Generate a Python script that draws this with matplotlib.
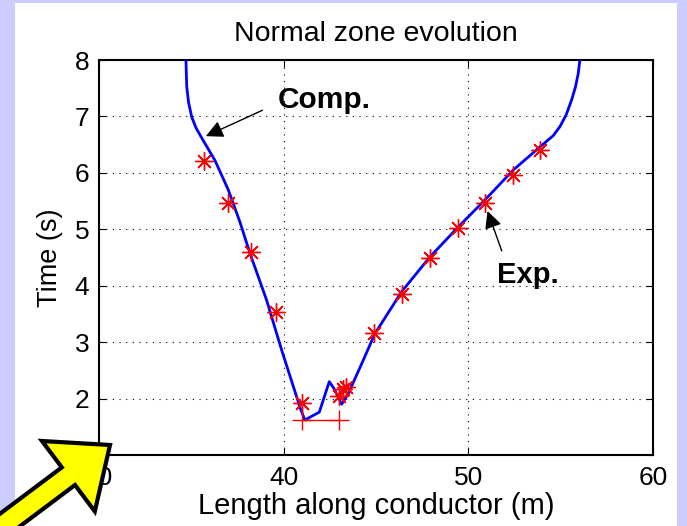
import numpy as np
import matplotlib
matplotlib.use('Agg')
import matplotlib.pyplot as plt
from matplotlib.patches import Rectangle, Polygon

plt.rcParams['font.family'] = ['Liberation Sans', 'DejaVu Sans']

# computed normal zone boundary (Comp.)
comp_x = [34.71, 34.73, 34.75, 34.85, 35.02, 35.25, 35.56, 36.28, 37.00, 37.63,
          38.18, 39.08, 39.89, 40.92, 41.15, 41.93, 42.47, 42.72, 43.14, 43.50,
          44.31, 44.94, 46.40, 47.92, 49.45, 50.90, 52.43, 53.88, 54.60, 54.96,
          55.30, 55.59, 55.80, 55.95, 56.04]
comp_t = [8.00, 7.75, 7.53, 7.25, 6.99, 6.80, 6.62, 6.22, 5.70, 5.13,
          4.57, 3.74, 2.86, 1.81, 1.62, 1.76, 2.30, 2.18, 1.90, 2.09,
          2.68, 3.15, 3.90, 4.51, 5.04, 5.52, 6.05, 6.46, 6.66, 6.82,
          7.03, 7.29, 7.52, 7.76, 8.00]

# measured points (Exp.)
exp_x = [35.68, 36.98, 38.23, 39.57, 40.97, 43.00, 43.20, 43.40,
         44.91, 46.39, 47.90, 49.42, 50.90, 52.40, 53.90]
exp_t = [6.21, 5.46, 4.60, 3.54, 1.93, 2.05, 2.17, 2.20,
         3.16, 3.86, 4.49, 5.03, 5.46, 5.96, 6.40]

# heater zone
heater_x = [41.0, 43.0]
heater_t = [1.62, 1.62]

W, H = 687, 526
fig = plt.figure(figsize=(W / 100, H / 100), dpi=100)
fig.patch.set_facecolor('#ccccff')

# white slide panel
fig.patches.append(Rectangle((15 / W, 0), 662 / W, 1 - 3 / H, transform=fig.transFigure,
                             facecolor='white', edgecolor='none', zorder=-5))
fig.text(131 / W, 1 + 9 / H, 'g', fontsize=28, ha='center', va='baseline', color='#111111')

ax = fig.add_axes([99 / W, 1 - 455 / H, 554 / W, 395 / H])
ax.plot(comp_x, comp_t, color='#0000ff', lw=2.0, zorder=3)
ax.plot(exp_x, exp_t, ls='none', marker=(8, 2, 0), ms=13, mec='red', mew=1.0, zorder=4)
ax.plot(heater_x, heater_t, color='red', lw=1.0, marker='+', ms=15, mew=1.0, zorder=4)

ax.set_xlim(30, 60)
ax.set_ylim(1, 8)
ax.set_xticks([30, 40, 50, 60])
ax.set_yticks([1, 2, 3, 4, 5, 6, 7, 8])
ax.grid(True, color='black', ls=(0, (1, 5)), lw=0.8)
ax.tick_params(direction='in', top=True, right=True, labelsize=19, length=5, width=0.8)
ax.tick_params(axis='x', pad=8)
ax.tick_params(axis='y', pad=7)
for s in ax.spines.values():
    s.set_linewidth(1.5)

ax.set_title('Normal zone evolution', fontsize=20.5, pad=14)
ax.set_xlabel('Length along conductor (m)', fontsize=21, labelpad=1)
ax.set_ylabel('Time (s)', fontsize=19.5, labelpad=8)

ax.annotate('', xy=(35.65, 6.63), xytext=(38.99, 7.13),
            arrowprops=dict(arrowstyle='-|>', color='black', lw=1.0, mutation_scale=26))
ax.text(39.7, 7.29, 'Comp.', fontsize=21.5, fontweight='bold', va='center', ha='left')
ax.annotate('', xy=(50.99, 5.37), xytext=(51.86, 4.57),
            arrowprops=dict(arrowstyle='-|>', color='black', lw=1.0, mutation_scale=26))
ax.text(53.2, 4.19, 'Exp.', fontsize=21, fontweight='bold', va='center', ha='center')

# big yellow pointer in the lower left corner (pixel coords, y down)
tip = np.array([110.0, 445.0])
d = np.array([0.8, -0.6])
n = np.array([0.6, 0.8])
base = tip - d * 52
tail = tip - d * 260
pts = [tail + n * 11, base + n * 11, base + n * 44, tip,
       base - n * 44, base - n * 11, tail - n * 11]
pts = [(p[0] / W, 1 - p[1] / H) for p in pts]
fig.patches.append(Polygon(pts, closed=True, transform=fig.transFigure,
                           facecolor='#ffff00', edgecolor='black', lw=3.0, zorder=10))

fig.savefig('out.png', dpi=100, facecolor=fig.get_facecolor())
